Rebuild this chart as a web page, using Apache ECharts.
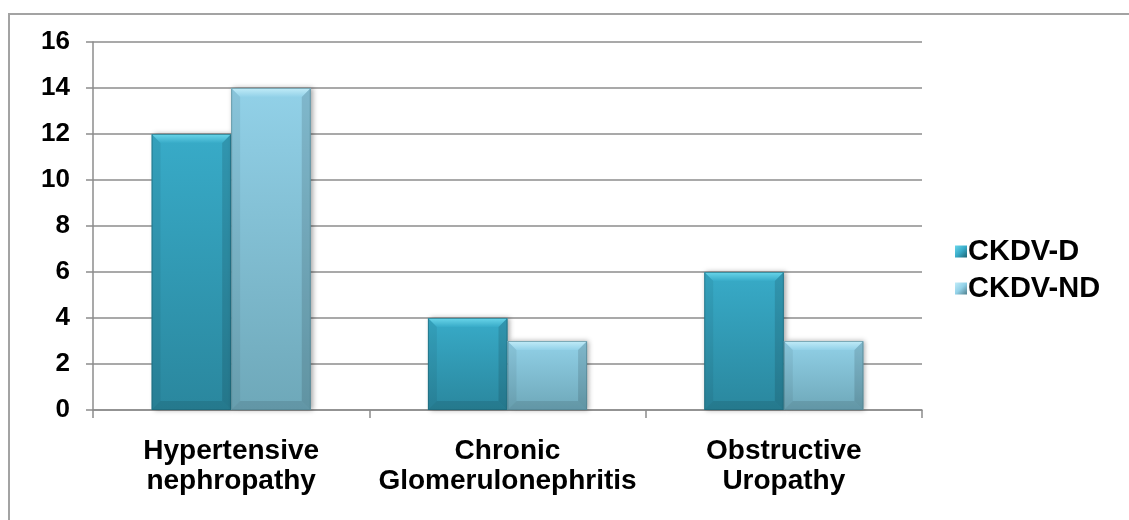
<!DOCTYPE html>
<html>
<head>
<meta charset="utf-8">
<title>CKDV aetiology</title>
<script src="https://cdn.jsdelivr.net/npm/echarts@6/dist/echarts.min.js"></script>
<style>
  html, body { margin: 0; padding: 0; background: #fff; }
  #chart { width: 1129px; height: 520px; }
</style>
</head>
<body>
<div id="chart"></div>
<script>
// Aetiology counts per group
const categories = ['Hypertensive\nnephropathy', 'Chronic\nGlomerulonephritis', 'Obstructive\nUropathy'];
const seriesNames = ['CKDV-D', 'CKDV-ND'];
const ckdvD = [12, 4, 6];
const ckdvND = [14, 3, 3];
const yMin = 0, yMax = 16, yStep = 2;

const FONT = '"Liberation Sans", Arial, sans-serif';

// face / bevel palettes for each series
const palettes = [
  { top: '#38abc8', bottom: '#2a879e', hi: '#6ad6ea', edge: '#1d6474' },
  { top: '#92d1e8', bottom: '#6ea8b9', hi: '#c2ecf8', edge: '#4f7f8c' }
];

// Bevelled bar drawn from the axis coordinates of one data item
function bevelBar(seriesIdx) {
  const pal = palettes[seriesIdx];
  return function (params, api) {
    const cat = api.value(0);
    const val = api.value(1);
    const base = api.coord([cat, 0]);
    const tip = api.coord([cat, val]);
    const band = api.size([1, 0])[0];
    const w = band * 0.288;
    const x0 = seriesIdx === 0 ? base[0] - w : base[0];
    const x1 = x0 + w;
    const y0 = tip[1];
    const y1 = base[1];
    const b = Math.min(9, (y1 - y0) / 2);
    const face = new echarts.graphic.LinearGradient(0, 0, 0, 1, [
      { offset: 0, color: pal.top },
      { offset: 1, color: pal.bottom }
    ]);
    return {
      type: 'group',
      children: [
        {
          type: 'rect',
          shape: { x: x0, y: y0, width: w, height: y1 - y0 },
          style: { fill: face, shadowBlur: 5, shadowOffsetX: 2, shadowOffsetY: 0, shadowColor: 'rgba(0,0,0,0.35)' }
        },
        {
          type: 'polygon',
          shape: { points: [[x0, y0], [x1, y0], [x1 - b, y0 + b], [x0 + b, y0 + b]] },
          style: {
            fill: new echarts.graphic.LinearGradient(0, 0, 0, 1, [
              { offset: 0, color: pal.hi },
              { offset: 1, color: pal.top }
            ])
          }
        },
        {
          type: 'polygon',
          shape: { points: [[x0, y0], [x0 + b, y0 + b], [x0 + b, y1 - b], [x0, y1]] },
          style: { fill: 'rgba(0,0,0,0.06)' }
        },
        {
          type: 'polygon',
          shape: { points: [[x1, y0], [x1, y1], [x1 - b, y1 - b], [x1 - b, y0 + b]] },
          style: { fill: 'rgba(0,0,0,0.12)' }
        },
        {
          type: 'polygon',
          shape: { points: [[x0, y1], [x1, y1], [x1 - b, y1 - b], [x0 + b, y1 - b]] },
          style: { fill: 'rgba(0,0,0,0.10)' }
        },
        {
          type: 'rect',
          shape: { x: x0 + 0.5, y: y0 + 0.5, width: w - 1, height: y1 - y0 - 1 },
          style: { fill: null, stroke: pal.edge, lineWidth: 1, opacity: 0.6 }
        }
      ]
    };
  };
}

function toItems(values) {
  return values.map(function (v, i) { return [i, v]; });
}

// legend swatch with a light top-left and dark bottom-right
function swatch(pal) {
  return new echarts.graphic.LinearGradient(0, 0, 1, 1, [
    { offset: 0, color: pal.hi },
    { offset: 0.5, color: pal.top },
    { offset: 1, color: pal.edge }
  ]);
}

const chart = echarts.init(document.getElementById('chart'), null, { renderer: 'canvas' });

chart.setOption({
  animation: false,
  backgroundColor: '#ffffff',
  graphic: [
    {
      type: 'rect',
      shape: { x: 9, y: 14, width: 1300, height: 700 },
      style: { fill: null, stroke: '#a3a3a3', lineWidth: 2 },
      silent: true,
      z: -1
    }
  ],
  grid: { left: 93, right: 207, top: 42, bottom: 110, containLabel: false },
  legend: {
    orient: 'vertical',
    left: 950,
    top: 232,
    itemWidth: 12,
    itemHeight: 12,
    itemGap: 8,
    icon: 'rect',
    data: [
      { name: seriesNames[0], itemStyle: { color: swatch(palettes[0]) } },
      { name: seriesNames[1], itemStyle: { color: swatch(palettes[1]) } }
    ],
    textStyle: { fontFamily: FONT, fontWeight: 'bold', fontSize: 29, color: '#000', padding: [0, 0, 0, -4] }
  },
  xAxis: {
    type: 'category',
    data: categories,
    boundaryGap: true,
    axisLine: { show: true, lineStyle: { color: '#8c8c8c', width: 1.5 } },
    axisTick: { show: true, interval: 0, length: 8, lineStyle: { color: '#8c8c8c', width: 1.5 } },
    axisLabel: {
      interval: 0,
      margin: 26,
      fontFamily: FONT,
      fontWeight: 'bold',
      fontSize: 28,
      lineHeight: 30,
      color: '#000'
    },
    splitLine: { show: false }
  },
  yAxis: {
    type: 'value',
    min: yMin,
    max: yMax,
    interval: yStep,
    axisLine: { show: true, lineStyle: { color: '#8c8c8c', width: 1.5 } },
    axisTick: { show: true, length: 7, lineStyle: { color: '#8c8c8c', width: 1.5 } },
    axisLabel: { margin: 23, fontFamily: FONT, fontWeight: 'bold', fontSize: 26, color: '#000' },
    splitLine: { show: true, lineStyle: { color: '#8c8c8c', width: 1.5 } }
  },
  series: [
    {
      name: seriesNames[0],
      type: 'custom',
      renderItem: bevelBar(0),
      encode: { x: 0, y: 1 },
      itemStyle: { color: '#2f97b2' },
      data: toItems(ckdvD),
      z: 3
    },
    {
      name: seriesNames[1],
      type: 'custom',
      renderItem: bevelBar(1),
      encode: { x: 0, y: 1 },
      itemStyle: { color: '#82bfd5' },
      data: toItems(ckdvND),
      z: 3
    }
  ]
});
</script>
</body>
</html>
